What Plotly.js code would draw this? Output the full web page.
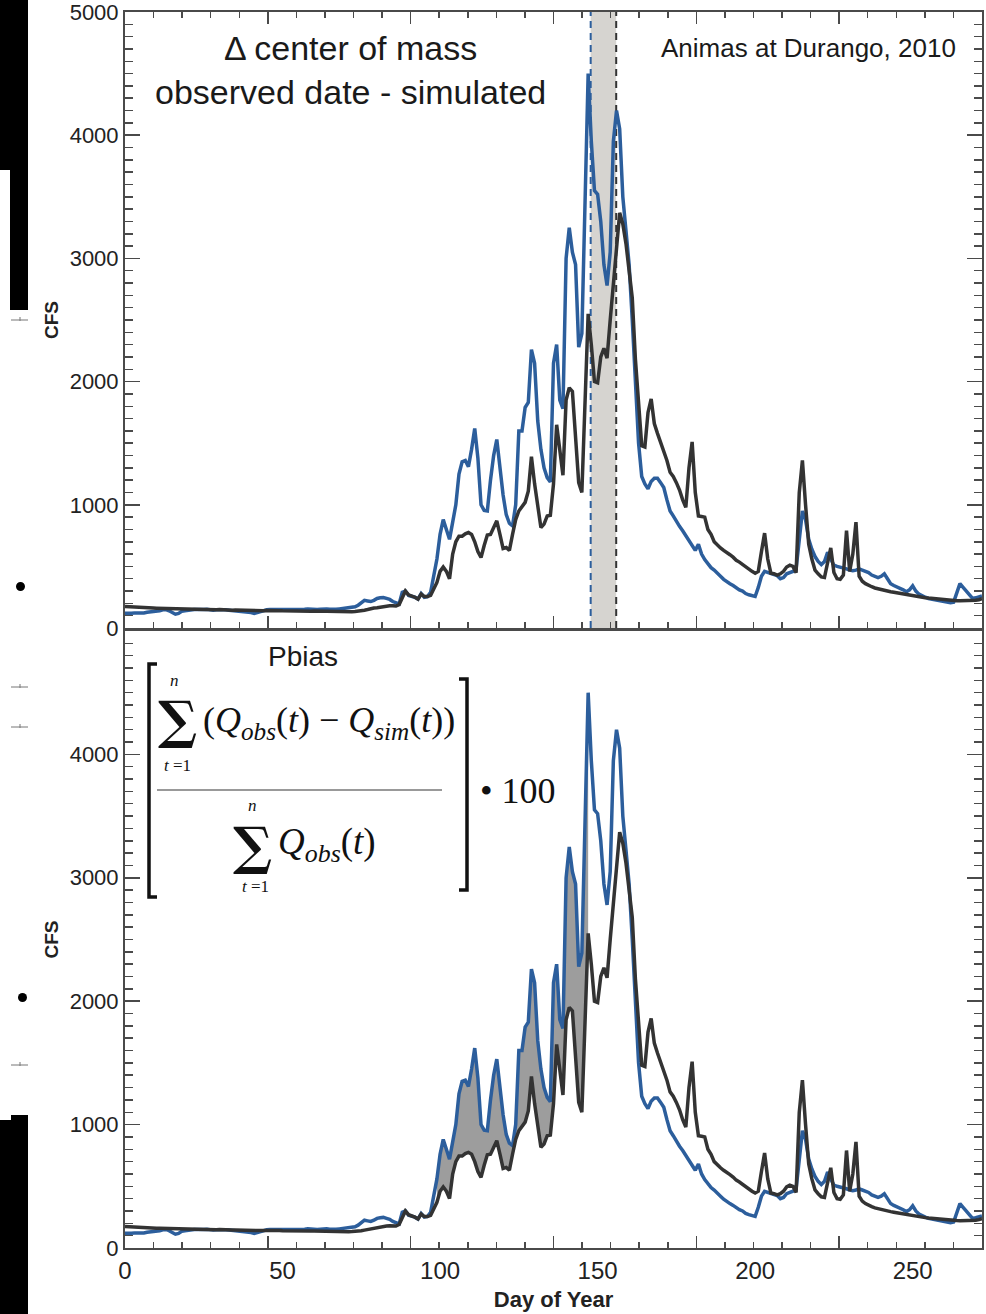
<!DOCTYPE html>
<html>
<head>
<meta charset="utf-8">
<script src="https://cdn.plot.ly/plotly-3.0.1.min.js"></script>
<style>html,body{margin:0;padding:0;background:#fff;}#chart{width:986px;height:1314px;}</style>
</head>
<body>
<div id="chart"></div>
<script>
// ---------------- data ----------------
const dayOfYear = [
0,1,2,3,4,5,6,7,8,9,10,11,12,13,14,15,16,17,18,19,
20,21,22,23,24,25,26,27,28,29,30,31,32,33,34,35,36,37,38,39,
40,41,42,43,44,45,46,47,48,49,50,51,52,53,54,55,56,57,58,59,
60,61,62,63,64,65,66,67,68,69,70,71,72,73,74,75,76,77,78,79,
80,81,82,83,84,85,86,87,88,89,90,91,92,93,94,95,96,97,98,99,
100,101,102,103,104,105,106,107,108,109,110,111,112,113,114,115,116,117,118,119,
120,121,122,123,124,125,126,127,128,129,130,131,132,133,134,135,136,137,138,139,
140,141,142,143,144,145,146,147,148,149,150,151,152,153,154,155,156,157,158,159,
160,161,162,163,164,165,166,167,168,169,170,171,172,173,174,175,176,177,178,179,
180,181,182,183,184,185,186,187,188,189,190,191,192,193,194,195,196,197,198,199,
200,201,202,203,204,205,206,207,208,209,210,211,212,213,214,215,216,217,218,219,
220,221,222,223,224,225,226,227,228,229,230,231,232,233,234,235,236,237,238,239,
240,241,242,243,244,245,246,247,248,249,250,251,252,253,254,255,256,257,258,259,
260,261,262,263,264,265,266,267,268,269,270,271,272];

const observedCFS = [
120,118,120,122,120,118,122,128,130,132,135,140,148,150,140,125,112,118,135,140,
145,148,150,150,148,150,152,148,145,148,150,152,148,145,142,140,140,138,135,132,
125,118,125,138,145,148,150,150,152,150,148,146,148,150,148,146,150,152,155,152,
150,150,152,155,155,152,150,152,155,158,160,162,165,172,185,205,225,220,215,225,
240,245,248,240,232,215,205,195,290,300,265,260,250,235,280,250,255,290,420,560,
760,880,800,720,860,1000,1250,1350,1360,1310,1450,1620,1380,1000,955,950,1200,1400,1530,1300,
1080,920,850,830,1000,1600,1600,1790,1830,2260,2150,1680,1450,1300,1220,1185,2150,2300,1850,1780,
3000,3250,3050,2950,2280,2390,3500,4500,3950,3550,3520,3300,2950,2780,3050,3950,4200,4050,3500,3250,
2950,2500,2000,1500,1230,1170,1130,1190,1215,1215,1180,1140,1040,950,910,860,825,790,750,715,
680,630,680,600,555,520,490,470,440,420,395,375,360,345,325,310,300,280,270,260,
256,330,420,460,450,445,435,425,400,410,440,450,460,480,700,950,880,720,640,580,
540,515,540,615,560,510,500,495,485,480,470,465,470,480,470,462,450,430,420,410,
420,440,400,360,345,335,325,310,295,310,342,300,275,260,250,240,235,228,222,215,
210,205,205,210,290,360,330,300,260,240,245,255,260];

const simulatedCFS = [
175,173,170,168,166,165,164,163,163,162,161,160,159,158,159,160,158,156,154,152,
150,152,150,148,150,152,150,148,146,148,150,148,145,144,145,146,145,143,142,143,
144,142,140,140,141,142,140,138,140,141,140,139,138,138,140,139,138,137,136,137,
138,137,136,135,135,134,134,133,133,132,132,132,133,134,136,140,145,150,158,162,
165,170,175,178,180,180,178,190,240,300,270,262,250,235,275,255,255,265,320,370,
460,495,460,400,600,700,745,745,765,775,760,700,620,572,670,755,760,820,870,760,
645,653,630,760,880,950,990,1020,1110,1390,1170,970,816,843,910,915,1170,1650,1430,1240,
1850,1950,1920,1500,1180,1100,1900,2550,2300,2000,1990,2200,2270,2190,2500,2780,3050,3370,3280,3120,
2900,2680,2180,1810,1480,1470,1750,1860,1660,1580,1510,1450,1360,1265,1230,1180,1120,1040,980,1300,
1510,1100,910,905,900,800,760,700,670,650,630,615,595,575,550,535,515,500,480,460,
445,460,620,770,560,445,440,430,440,460,495,510,500,450,1100,1360,1000,680,560,470,
440,415,410,520,650,450,400,395,430,790,460,600,860,420,380,360,345,335,325,318,
310,305,300,295,290,285,280,275,270,265,260,256,253,250,246,243,240,237,234,231,
228,226,224,222,222,221,221,220,221,222,225,230,238];

const centerOfMassObserved = 147.8;   // day of year
const centerOfMassSimulated = 155.9;  // day of year
const pbiasShadeDays = [99, 147];     // first/last day of shaded Pbias area
const xTickLabels = [0, 50, 100, 150, 200, 250];
const yTickLabelsTop = [0, 1000, 2000, 3000, 4000, 5000];
const yTickLabelsBottom = [0, 1000, 2000, 3000, 4000];

// ---------------- styling ----------------
const BLUE = '#2c5e9c', DARK = '#333333', AXIS = '#4a4a4a';
const SANS = 'Liberation Sans, Arial, Helvetica, sans-serif';
const SERIF = 'Liberation Serif, Times New Roman, serif';
const L = 125, R = 982, T = 12, B = 1248;
const px = x => (x - L) / (R - L);
const py = y => (B - y) / (B - T);
const LW = 3.5;

const iA = dayOfYear.indexOf(pbiasShadeDays[0]);
const iB = dayOfYear.indexOf(pbiasShadeDays[1]) + 1;

const traces = [
  // top panel
  {x: dayOfYear, y: observedCFS, xaxis: 'x2', yaxis: 'y2', mode: 'lines',
   line: {color: BLUE, width: LW}, hoverinfo: 'skip'},
  {x: dayOfYear, y: simulatedCFS, xaxis: 'x2', yaxis: 'y2', mode: 'lines',
   line: {color: DARK, width: LW}, hoverinfo: 'skip'},
  // bottom panel: shaded difference
  {x: dayOfYear.slice(iA, iB), y: simulatedCFS.slice(iA, iB), xaxis: 'x', yaxis: 'y',
   mode: 'lines', line: {width: 0, color: 'rgba(0,0,0,0)'}, hoverinfo: 'skip'},
  {x: dayOfYear.slice(iA, iB), y: observedCFS.slice(iA, iB), xaxis: 'x', yaxis: 'y',
   mode: 'lines', line: {width: 0, color: 'rgba(0,0,0,0)'}, fill: 'tonexty', fillcolor: '#9d9d9d', hoverinfo: 'skip'},
  {x: dayOfYear, y: observedCFS, xaxis: 'x', yaxis: 'y', mode: 'lines',
   line: {color: BLUE, width: LW}, hoverinfo: 'skip'},
  {x: dayOfYear, y: simulatedCFS, xaxis: 'x', yaxis: 'y', mode: 'lines',
   line: {color: DARK, width: LW}, hoverinfo: 'skip'},
  // carrier for the labelled day axis
  {x: [xTickLabels[0], xTickLabels[xTickLabels.length - 1]], y: [0, 0], xaxis: 'x3', yaxis: 'y',
   mode: 'lines', line: {width: 0, color: 'rgba(0,0,0,0)'}, hoverinfo: 'skip'}
];

const xRange = [0, 272];
const tickMarkStep = 272 / 6;
const xTickMarks = {
  range: xRange, tickmode: 'linear', tick0: 0, dtick: tickMarkStep,
  ticks: 'inside', ticklen: 12, tickwidth: 1.5, tickcolor: AXIS,
  minor: {tickmode: 'linear', tick0: 0, dtick: tickMarkStep / 5, ticks: 'inside', ticklen: 6, tickwidth: 1.5, tickcolor: AXIS},
  showticklabels: false, showline: true, linecolor: AXIS, linewidth: 2,
  showgrid: false, zeroline: false, automargin: false, fixedrange: true
};
function yAxis(domain, vals, range) {
  return {
    domain: domain, range: range, tickmode: 'array', tickvals: vals,
    ticks: 'inside', ticklen: 15, tickwidth: 1.5, tickcolor: AXIS,
    minor: {tickmode: 'linear', tick0: 0, dtick: 100, ticks: 'inside', ticklen: 8, tickwidth: 1.5, tickcolor: AXIS},
    showline: true, linecolor: AXIS, linewidth: 2, mirror: 'ticks',
    showgrid: false, zeroline: false, automargin: false, fixedrange: true,
    ticklabeloverflow: 'allow',
    tickfont: {family: SANS, size: 22, color: '#222'},
    title: {text: '<b>CFS</b>', font: {family: SANS, size: 19, color: '#222'}, standoff: 6}
  };
}

function note(text, x, y, size, extra) {
  return Object.assign({text: text, x: px(x), y: py(y), xref: 'paper', yref: 'paper',
    showarrow: false, xanchor: 'center', yanchor: 'middle',
    font: {family: SERIF, size: size, color: '#111'}}, extra || {});
}
const SIGMA_FONT = {family: 'DejaVu Serif', size: 52, color: '#111'};

const annotations = [
  note('Δ center of mass<br>observed date - simulated', 350, 70, 34,
       {font: {family: SANS, size: 34, color: '#1a1a1a'}}),
  note('Animas at Durango, 2010', 808, 48, 26, {font: {family: SANS, size: 26, color: '#1a1a1a'}}),
  note('Pbias', 303, 656, 28, {font: {family: SANS, size: 28, color: '#1a1a1a'}}),
  // numerator
  note('<b>∑</b>', 177, 719, 52, {font: SIGMA_FONT}),
  note('<i>n</i>', 174, 680, 17),
  note('<i>t</i> =1', 177, 765, 17),
  note('(<i>Q</i><sub><i>obs</i></sub>(<i>t</i>) − <i>Q</i><sub><i>sim</i></sub>(<i>t</i>))', 201, 722, 36,
       {xanchor: 'left'}),
  // denominator
  note('<b>∑</b>', 252, 845, 52, {font: SIGMA_FONT}),
  note('<i>n</i>', 252, 805, 17),
  note('<i>t</i> =1', 255, 886, 17),
  note('<i>Q</i><sub><i>obs</i></sub>(<i>t</i>)', 276, 844, 37, {xanchor: 'left'}),
  note('• 100', 478, 791, 36, {xanchor: 'left'})
];

const shapes = [
  // center-of-mass band and lines (top panel)
  {type: 'rect', xref: 'x2', yref: 'y2', x0: centerOfMassObserved, x1: centerOfMassSimulated,
   y0: 0, y1: 5000, fillcolor: '#d6d4d0', line: {width: 0}, layer: 'below'},
  {type: 'line', xref: 'x2', yref: 'y2', x0: centerOfMassObserved, x1: centerOfMassObserved,
   y0: 0, y1: 5000, line: {color: BLUE, width: 2, dash: '7px,5px'}, layer: 'below'},
  {type: 'line', xref: 'x2', yref: 'y2', x0: centerOfMassSimulated, x1: centerOfMassSimulated,
   y0: 0, y1: 5000, line: {color: DARK, width: 2, dash: '7px,5px'}, layer: 'below'},
  // formula brackets and fraction bar
  {type: 'path', xref: 'paper', yref: 'paper',
   path: `M${px(157)},${py(664)} L${px(149)},${py(664)} L${px(149)},${py(897)} L${px(157)},${py(897)}`,
   line: {color: '#111', width: 3.5}},
  {type: 'path', xref: 'paper', yref: 'paper',
   path: `M${px(459)},${py(679)} L${px(467)},${py(679)} L${px(467)},${py(890)} L${px(459)},${py(890)}`,
   line: {color: '#111', width: 3.5}},
  {type: 'line', xref: 'paper', yref: 'paper', x0: px(157), x1: px(442), y0: py(790), y1: py(790),
   line: {color: '#777', width: 1.5}},
  // slide remnants at the left edge
  {type: 'rect', xref: 'paper', yref: 'paper', x0: px(0), x1: px(28), y0: py(0), y1: py(170), fillcolor: '#000', line: {width: 0}},
  {type: 'rect', xref: 'paper', yref: 'paper', x0: px(10), x1: px(28), y0: py(168), y1: py(310), fillcolor: '#000', line: {width: 0}},
  {type: 'rect', xref: 'paper', yref: 'paper', x0: px(0), x1: px(28), y0: py(1120), y1: py(1314), fillcolor: '#000', line: {width: 0}},
  {type: 'rect', xref: 'paper', yref: 'paper', x0: px(11), x1: px(28), y0: py(1115), y1: py(1121), fillcolor: '#000', line: {width: 0}},
  {type: 'circle', xref: 'paper', yref: 'paper', x0: px(16), x1: px(25), y0: py(582), y1: py(591), fillcolor: '#000', line: {width: 0}},
  {type: 'circle', xref: 'paper', yref: 'paper', x0: px(18), x1: px(27), y0: py(993), y1: py(1002), fillcolor: '#000', line: {width: 0}}
];
[320, 687, 727, 1065].forEach(function (yy) {
  shapes.push({type: 'line', xref: 'paper', yref: 'paper', x0: px(11), x1: px(28), y0: py(yy), y1: py(yy), line: {color: '#777', width: 1}});
  shapes.push({type: 'line', xref: 'paper', yref: 'paper', x0: px(20), x1: px(20), y0: py(yy - 3), y1: py(yy + 1), line: {color: '#777', width: 1}});
});

const layout = {
  width: 986, height: 1314,
  margin: {l: L, r: 986 - R, t: T, b: 1314 - B, pad: 0},
  paper_bgcolor: '#fff', plot_bgcolor: 'rgba(0,0,0,0)',
  showlegend: false,
  font: {family: SANS, color: '#222'},
  xaxis: Object.assign({}, xTickMarks, {anchor: 'y', mirror: true}),
  xaxis2: Object.assign({}, xTickMarks, {anchor: 'y2', mirror: 'ticks'}),
  xaxis3: {
    overlaying: 'x', anchor: 'y', side: 'bottom', range: xRange,
    tickmode: 'array', tickvals: xTickLabels, ticks: '', showline: false, showgrid: false,
    zeroline: false, automargin: false, fixedrange: true, ticklabeloverflow: 'allow',
    ticklabelstandoff: 6,
    tickfont: {family: SANS, size: 24, color: '#222'},
    title: {text: '<b>Day of Year</b>', font: {family: SANS, size: 22, color: '#222'}, standoff: 8}
  },
  yaxis: yAxis([0, 0.4992], yTickLabelsBottom, [0, 5000]),
  yaxis2: yAxis([0.5016, 1], yTickLabelsTop, [0, 5000]),
  annotations: annotations,
  shapes: shapes
};

Plotly.newPlot('chart', traces, layout, {staticPlot: true, displayModeBar: false});
</script>
</body>
</html>
